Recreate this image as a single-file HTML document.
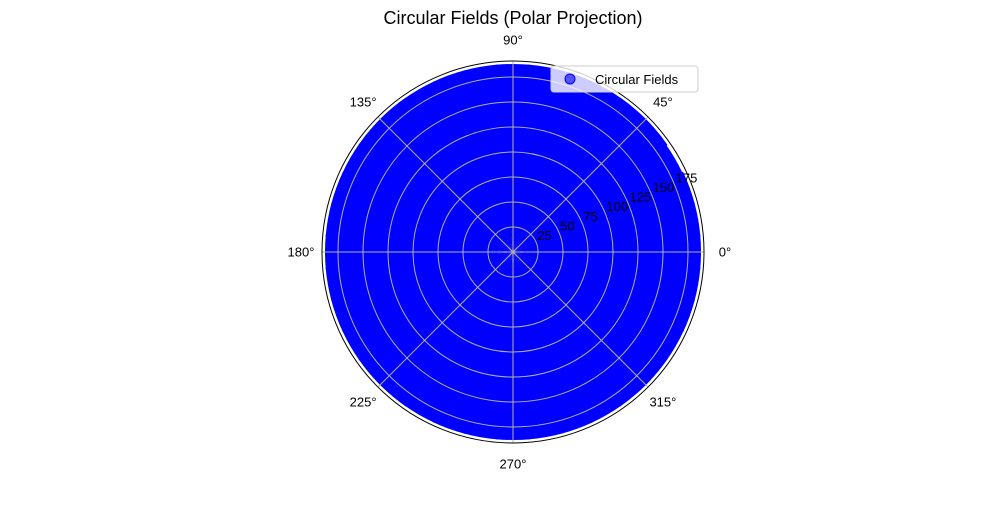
<!DOCTYPE html>
<html><head><meta charset="utf-8"><style>
body{margin:0;background:#fff;}
svg text{font-family:"Liberation Sans","DejaVu Sans",sans-serif;}
</style></head><body>
<svg id="chart" width="1000" height="500" viewBox="0 0 1000 500" xmlns="http://www.w3.org/2000/svg">
<rect width="1000" height="500" fill="#fff"/>
<text x="513" y="24" font-size="18" text-anchor="middle">Circular Fields (Polar Projection)</text>
<g id="field"></g>
<g id="grid"></g>
<g id="labels"></g>
<g>
<rect x="551" y="66" width="147" height="26" rx="3" fill="#fff" fill-opacity="0.8" stroke="#ccc"/>
<circle cx="570" cy="79" r="5" fill="#0000ff" fill-opacity="0.6" stroke="#0000ff"/>
<text x="595" y="84" font-size="13">Circular Fields</text>
</g>
</svg>
<script>
const angleCats=[0,10,20,30,40,50,60,70,80,90,100,110,120,130,140,150,160,170,180,190,200,210,220,230,240,250,260,270,280,290,300,310,320,330,340,350];
const fieldRadius=[188,188,188,187,188,188,188,188,188,188,188,188,188,188,188,188,188,188,188,188,188,188,188,188,188,188,188,188,188,188,188,188,188,188,188,188];
const radialTicks=[25,50,75,100,125,150,175];
const angleTicks=[0,45,90,135,180,225,270,315];
const rMax=191;
const cx=513, cy=252, R=191;
const NS='http://www.w3.org/2000/svg';
function rs(v){return v/rMax*R;}
function pt(deg,r){const a=deg*Math.PI/180;return [cx+r*Math.cos(a),cy-r*Math.sin(a)];}
const field=document.getElementById('field');
angleCats.forEach((a,i)=>{
  const r=rs(fieldRadius[i]);
  const p1=pt(a-5.3,r),p2=pt(a+5.3,r);
  const p=document.createElementNS(NS,'path');
  p.setAttribute('d',`M${cx},${cy}L${p1[0]},${p1[1]}A${r},${r} 0 0 0 ${p2[0]},${p2[1]}Z`);
  p.setAttribute('fill','#0000ff');
  
  
  field.appendChild(p);
});
const grid=document.getElementById('grid');
radialTicks.forEach(t=>{
  const c=document.createElementNS(NS,'circle');
  c.setAttribute('cx',cx);c.setAttribute('cy',cy);c.setAttribute('r',rs(t));
  c.setAttribute('fill','none');c.setAttribute('stroke','#b0b0b0');c.setAttribute('stroke-width','1');
  
  
  grid.appendChild(c);
});
angleTicks.forEach(t=>{
  const e=pt(t,R);
  const l=document.createElementNS(NS,'line');
  l.setAttribute('x1',cx);l.setAttribute('y1',cy);l.setAttribute('x2',e[0]);l.setAttribute('y2',e[1]);
  l.setAttribute('stroke','#b0b0b0');l.setAttribute('stroke-width','1');
  
  
  grid.appendChild(l);
});
const outer=document.createElementNS(NS,'circle');
outer.setAttribute('cx',cx);outer.setAttribute('cy',cy);outer.setAttribute('r',R);
outer.setAttribute('fill','none');outer.setAttribute('stroke','#000');outer.setAttribute('stroke-width','1');


grid.appendChild(outer);
const labels=document.getElementById('labels');
angleTicks.forEach(t=>{
  const p=pt(t,R+21);
  const tx=document.createElementNS(NS,'text');
  tx.setAttribute('x',p[0]);tx.setAttribute('y',p[1]+4.5);
  tx.setAttribute('font-size','13');tx.setAttribute('text-anchor','middle');
  tx.textContent=t+'°';
  
  
  labels.appendChild(tx);
});
radialTicks.forEach(t=>{
  const p=pt(22.5,rs(t));
  const tx=document.createElementNS(NS,'text');
  tx.setAttribute('x',p[0]+1);tx.setAttribute('y',p[1]-2.5);
  tx.setAttribute('font-size','13');
  tx.textContent=t;
  
  
  labels.appendChild(tx);
});
</script>
</body></html>
